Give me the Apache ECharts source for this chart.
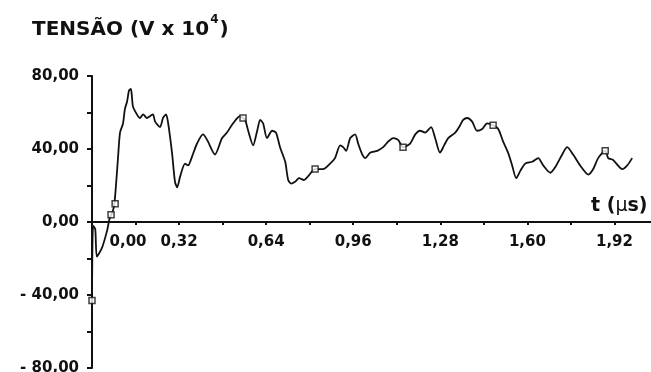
<!DOCTYPE html>
<html>
<head>
<meta charset="utf-8">
<script src="https://cdn.jsdelivr.net/npm/echarts@6/dist/echarts.min.js"></script>
<style>
  html, body { margin: 0; padding: 0; background: #fff; }
  #chart { width: 651px; height: 372px; }
</style>
</head>
<body>
<div id="chart"></div>
<script>
// tempo (µs) e tensão (V x 10^4)
const tempo = [
  0, 0.004, 0.012, 0.018, 0.037, 0.055, 0.065, 0.074, 0.08, 0.085,
  0.096, 0.103, 0.114, 0.121, 0.129, 0.136, 0.143, 0.147, 0.151, 0.169,
  0.176, 0.188, 0.202, 0.213, 0.224, 0.232, 0.25, 0.261, 0.272, 0.279,
  0.294, 0.305, 0.313, 0.324, 0.342, 0.353, 0.368, 0.386, 0.408, 0.423,
  0.452, 0.478, 0.496, 0.518, 0.544, 0.555, 0.563, 0.574, 0.592, 0.607,
  0.618, 0.629, 0.643, 0.662, 0.676, 0.691, 0.71, 0.721, 0.732, 0.746,
  0.761, 0.779, 0.794, 0.82, 0.849, 0.875, 0.893, 0.912, 0.923, 0.934,
  0.949, 0.967, 0.978, 0.993, 1.004, 1.022, 1.048, 1.07, 1.088, 1.107,
  1.125, 1.143, 1.169, 1.188, 1.206, 1.224, 1.246, 1.261, 1.279, 1.294,
  1.309, 1.335, 1.353, 1.364, 1.379, 1.397, 1.415, 1.434, 1.452, 1.474,
  1.493, 1.511, 1.529, 1.544, 1.559, 1.574, 1.592, 1.618, 1.64, 1.658,
  1.684, 1.702, 1.728, 1.746, 1.768, 1.794, 1.824, 1.842, 1.86, 1.886,
  1.897, 1.915, 1.949, 1.967, 1.985
];
const tensao = [
  -43, -2, -4, -19, -14, -5, 2, 5, 8, 14,
  36, 49, 54, 62, 66, 72, 73, 68, 63, 58,
  57, 59, 57, 58, 59, 55, 52, 57, 59, 55,
  38, 22, 19, 25, 32, 31, 36, 43, 48, 45,
  37, 46, 49, 54, 58, 57, 56, 50, 42, 50,
  56, 54, 46, 50, 49, 41, 33, 23, 21, 22,
  24, 23, 25, 29, 29, 32, 35, 42, 41, 39,
  46, 48, 43, 37, 35, 38, 39, 41, 44, 46,
  45, 41, 43, 48, 50, 49, 52, 46, 38, 42,
  46, 49, 53, 56, 57, 55, 50, 51, 54, 53,
  51, 44, 38, 31, 24, 28, 32, 33, 35, 31,
  27, 30, 37, 41, 37, 31, 26, 29, 35, 39,
  35, 34, 29, 31, 35
];
// pontos marcados com quadradinho
const marcT = [0, 0.07, 0.085, 0.555, 0.82, 1.143, 1.474, 1.886];
const marcV = [-43, 4, 10, 57, 29, 41, 53, 39];

const xTicks = [0, 0.32, 0.64, 0.96, 1.28, 1.6, 1.92];
const yTicks = [-80, -40, 0, 40, 80];

const FONT = 'DejaVu Sans';
const chart = echarts.init(document.getElementById('chart'));

const fmt = (v) => v.toFixed(2).replace('.', ',');

// eixo x na altura do zero: grid vai de y=76 a y=368, zero em y=222
const offsetZero = -146;

chart.setOption({
  backgroundColor: '#fff',
  animation: false,
  title: {
    left: 27,
    top: 9,
    text: '{a|TENSÃO (V x 10}{s|4}{a|)}',
    textStyle: {
      rich: {
        a: { fontFamily: FONT, fontWeight: 'bold', fontSize: 20, color: '#111' },
        s: { fontFamily: FONT, fontWeight: 'bold', fontSize: 12, color: '#111', padding: [0, 1, 20, 1] }
      }
    }
  },
  grid: { left: 92, top: 76, width: 566, height: 292, outerBoundsMode: 'none' },
  xAxis: {
    type: 'value',
    min: 0,
    max: 2.08,
    interval: 0.16,
    offset: offsetZero,
    name: '{a|t (}{m|µ}{a|s)}',
    nameLocation: 'end',
    nameGap: -67,
    nameTextStyle: {
      verticalAlign: 'bottom',
      padding: [0, 0, 6, 0],
      rich: {
        a: { fontFamily: FONT, fontWeight: 'bold', fontSize: 19, color: '#111' },
        m: { fontFamily: FONT, fontWeight: 'normal', fontSize: 19, color: '#111' }
      }
    },
    axisLine: { onZero: false, lineStyle: { color: '#111', width: 2 } },
    axisTick: { length: 3, lineStyle: { color: '#111', width: 2 } },
    splitLine: { show: false },
    axisLabel: {
      margin: 13,
      fontFamily: FONT,
      fontWeight: 'bold',
      fontSize: 15,
      color: '#111',
      formatter: (v) => {
        const hit = xTicks.find(t => Math.abs(t - v) < 1e-6);
        if (hit === undefined) return '';
        if (hit === 0) return '{z|' + fmt(0) + '}';
        return fmt(hit);
      },
      rich: {
        z: { fontFamily: FONT, fontWeight: 'bold', fontSize: 15, color: '#111', padding: [0, 0, 0, 72] }
      }
    }
  },
  yAxis: {
    type: 'value',
    min: -80,
    max: 80,
    interval: 20,
    axisLine: { lineStyle: { color: '#111', width: 2 } },
    axisTick: { length: 5, lineStyle: { color: '#111', width: 2 } },
    splitLine: { show: false },
    axisLabel: {
      margin: 13,
      fontFamily: FONT,
      fontWeight: 'bold',
      fontSize: 15,
      color: '#111',
      formatter: (v) => {
        if (!yTicks.includes(v)) return '';
        return v < 0 ? '- ' + fmt(-v) : fmt(v);
      }
    }
  },
  series: [
    {
      type: 'line',
      data: tempo.map((t, i) => [t, tensao[i]]),
      smooth: 0.25,
      showSymbol: false,
      lineStyle: { color: '#111', width: 1.8 },
      z: 2
    },
    {
      type: 'scatter',
      data: marcT.map((t, i) => [t, marcV[i]]),
      symbol: 'rect',
      symbolSize: 6,
      itemStyle: { color: '#fff', borderColor: '#111', borderWidth: 1.5 },
      z: 3
    }
  ]
});
</script>
</body>
</html>
